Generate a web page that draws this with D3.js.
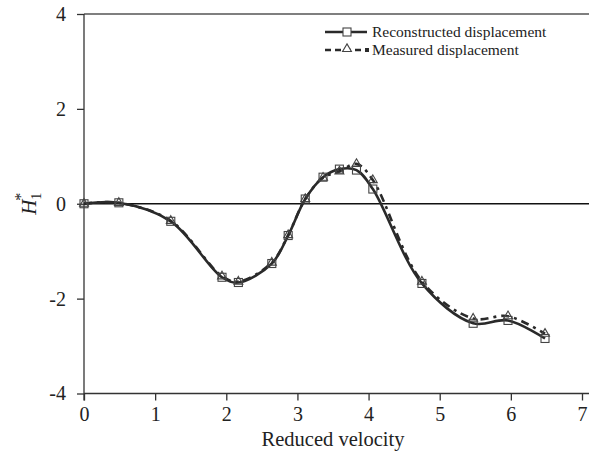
<!DOCTYPE html>
<html><head><meta charset="utf-8">
<script src="https://cdn.jsdelivr.net/npm/d3@7"></script>
<style>body{margin:0;background:#fff}svg{display:block}svg text{font-family:"Liberation Serif","Times New Roman",serif !important;fill:#222}</style>
</head><body><svg id="c" width="589" height="460"></svg>
<script>
const velocity      = [0, 0.49, 1.22, 1.94, 2.17, 2.64, 2.87, 3.11, 3.36, 3.59, 3.83, 4.06, 4.75, 5.47, 5.96, 6.48];
const reconstructed = [0, 0.02, -0.37, -1.55, -1.66, -1.26, -0.67, 0.10, 0.56, 0.73, 0.71, 0.31, -1.68, -2.52, -2.46, -2.84];
const measured      = [0, 0.02, -0.36, -1.53, -1.64, -1.24, -0.66, 0.10, 0.55, 0.68, 0.84, 0.50, -1.64, -2.42, -2.37, -2.74];
const xTicks = [0,1,2,3,4,5,6,7];
const yTicks = [-4,-2,0,2,4];

const svg = d3.select("#c");
const x = d3.scaleLinear().domain([0,7]).range([84,582]);
const y = d3.scaleLinear().domain([-4,4]).range([393.5,14]);
const ink = "#2a2a2a";
const serif = "Liberation Serif";

svg.append("line").attr("x1",x(0)).attr("x2",589).attr("y1",y(4)).attr("y2",y(4)).attr("stroke","#555").attr("stroke-width",1.3);
svg.append("line").attr("x1",x(0)).attr("x2",589).attr("y1",y(-4)).attr("y2",y(-4)).attr("stroke","#333").attr("stroke-width",1.3);
svg.append("line").attr("x1",x(0)).attr("x2",589).attr("y1",y(0)).attr("y2",y(0)).attr("stroke","#111").attr("stroke-width",1.6);

const yAxis = svg.append("g").attr("transform",`translate(${x(0)},0)`)
  .call(d3.axisLeft(y).tickValues(yTicks).tickSize(7).tickPadding(11).tickFormat(d=>String(d)));
const xAxis = svg.append("g").attr("transform",`translate(0,${y(-4)})`)
  .call(d3.axisBottom(x).tickValues(xTicks).tickSize(7).tickPadding(6).tickFormat(d=>String(d)));
[xAxis,yAxis].forEach(g=>{
  g.attr("font-family",serif);
  g.select(".domain").remove();
  g.selectAll(".tick line").attr("stroke","#333").attr("stroke-width",1.3);
  g.selectAll(".tick text").attr("font-size",20).attr("fill","#222");
});
svg.append("line").attr("x1",x(0)).attr("x2",x(0)).attr("y1",y(4)).attr("y2",y(-4)+7).attr("stroke","#333").attr("stroke-width",1.3);

svg.append("text").attr("x",x(3.5)).attr("y",446).attr("text-anchor","middle").attr("font-size",20.5).text("Reduced velocity");
const yl = svg.append("text").attr("transform",`translate(36,${y(0)}) rotate(-90)`).attr("text-anchor","middle").attr("font-size",21);
yl.append("tspan").attr("font-style","italic").text("H");
yl.append("tspan").attr("font-size",14).attr("dy",5).text("1");
yl.append("tspan").attr("font-size",16).attr("dy",-15).attr("dx",-8).text("*");

const pts = (vals)=>velocity.map((v,i)=>[v,vals[i]]);
const line = d3.line().x(d=>x(d[0])).y(d=>y(d[1])).curve(d3.curveCatmullRom.alpha(0.5));

svg.append("path").attr("d",line(pts(measured))).attr("fill","none").attr("stroke",ink).attr("stroke-width",2.6).attr("stroke-dasharray","8,5,3,5");
svg.append("path").attr("d",line(pts(reconstructed))).attr("fill","none").attr("stroke",ink).attr("stroke-width",2.6);

const sq = 8;
svg.append("g").selectAll("rect").data(pts(reconstructed)).join("rect")
  .attr("x",d=>x(d[0])-sq/2).attr("y",d=>y(d[1])-sq/2).attr("width",sq).attr("height",sq)
  .attr("fill","none").attr("stroke","#444").attr("stroke-width",1.1);
const tri = d3.symbol().type(d3.symbolTriangle).size(34);
svg.append("g").selectAll("path").data(pts(measured)).join("path")
  .attr("d",tri).attr("transform",d=>`translate(${x(d[0])},${y(d[1])})`)
  .attr("fill","none").attr("stroke","#444").attr("stroke-width",1.1);

const lg = svg.append("g");
lg.append("line").attr("x1",325).attr("x2",367).attr("y1",32).attr("y2",32).attr("stroke",ink).attr("stroke-width",2.6);
lg.append("rect").attr("x",347-4).attr("y",32-4).attr("width",8).attr("height",8).attr("fill","#fff").attr("stroke","#444").attr("stroke-width",1.1);
lg.append("text").attr("x",372).attr("y",37).attr("font-size",15.5).text("Reconstructed displacement");
lg.append("line").attr("x1",325).attr("x2",362).attr("y1",50).attr("y2",50).attr("stroke",ink).attr("stroke-width",2.6).attr("stroke-dasharray","6,4");
lg.append("rect").attr("x",365).attr("y",48).attr("width",4).attr("height",4).attr("fill",ink);
lg.append("path").attr("d",tri).attr("transform","translate(347,49)").attr("fill","#fff").attr("stroke","#444").attr("stroke-width",1.1);
lg.append("text").attr("x",372).attr("y",55).attr("font-size",15.5).text("Measured displacement");
</script></body></html>
